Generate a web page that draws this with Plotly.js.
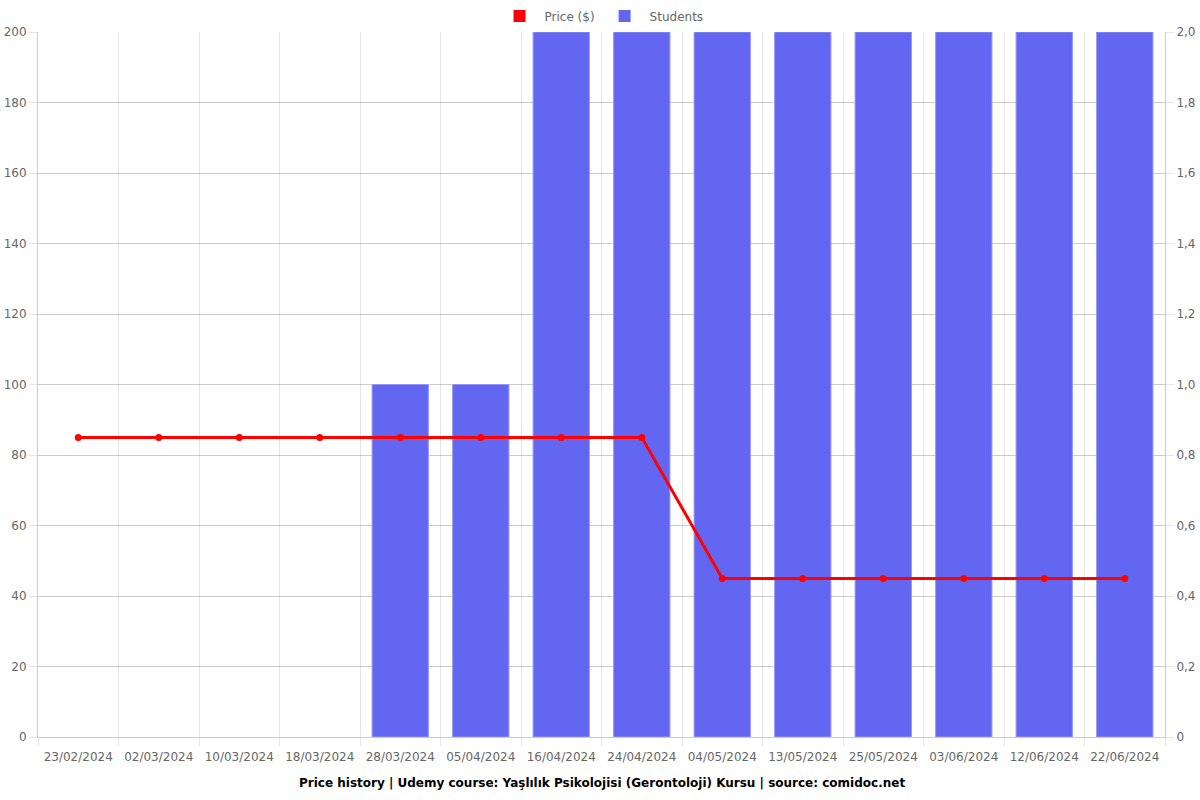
<!DOCTYPE html>
<html>
<head>
<meta charset="utf-8">
<script src="https://cdn.plot.ly/plotly-3.0.1.min.js"></script>
<style>html,body{margin:0;padding:0;background:#fff;}#chart{width:1200px;height:800px;}</style>
</head>
<body>
<div id="chart"></div>
<script>
const dates = ["23/02/2024","02/03/2024","10/03/2024","18/03/2024","28/03/2024","05/04/2024","16/04/2024","24/04/2024","04/05/2024","13/05/2024","25/05/2024","03/06/2024","12/06/2024","22/06/2024"];
const price = [85,85,85,85,85,85,85,85,45,45,45,45,45,45];
const students = [0,0,0,0,1,1,2,2,2,2,2,2,2,2];
const priceTicks = [0,20,40,60,80,100,120,140,160,180,200];
const studentTicks = [0,0.2,0.4,0.6,0.8,1.0,1.2,1.4,1.6,1.8,2.0];
const studentTickText = ["0","0,2","0,4","0,6","0,8","1,0","1,2","1,4","1,6","1,8","2,0"];
const titleText = "Price history | Udemy course: Yaşlılık Psikolojisi (Gerontoloji) Kursu | source: comidoc.net";

const idx = dates.map((d,i)=>i);
const bounds = dates.map((d,i)=>i-0.5).concat([dates.length-0.5]);
const FONT = "DejaVu Sans, sans-serif";
const VGRID = "rgba(0,0,0,0.1)";
const HGRID = "rgba(0,0,0,0.2)";
const BLUE = "rgb(99,102,241)";

const traces = [
  {type:"bar", x:[null], y:[null], xaxis:"x2", yaxis:"y", name:"Price ($)",
   marker:{color:"rgb(255,0,0)", line:{width:0}}, showlegend:true, hoverinfo:"skip"},
  {type:"bar", x:idx, y:students, xaxis:"x", yaxis:"y", name:"Students", width:0.7,
   marker:{color:BLUE, line:{color:"rgba(150,152,246,1)", width:students.map(v=>v>0?1:0)}}},
  {type:"scatter", mode:"lines+markers", x:idx, y:price, xaxis:"x", yaxis:"y2", name:"Price ($)",
   line:{color:"rgb(255,0,0)", width:3}, marker:{color:"rgb(255,0,0)", size:7}, showlegend:false}
];

const layout = {
  width:1200, height:800,
  margin:{l:38, r:35, t:32, b:63, autoexpand:false},
  paper_bgcolor:"#fff", plot_bgcolor:"#fff",
  font:{family:FONT, size:12, color:"#666"},
  barmode:"overlay",
  showlegend:true,
  legend:{orientation:"h", x:0.5, xanchor:"center", y:1.0227, yanchor:"middle",
          font:{family:FONT, size:12, color:"#666"}, traceorder:"normal", itemwidth:40},
  xaxis:{range:[-0.5, dates.length-0.5], tickmode:"array", tickvals:bounds, showticklabels:false,
         ticks:"outside", ticklen:8, tickcolor:VGRID, showgrid:true, gridcolor:VGRID,
         zeroline:false, showline:true, linecolor:HGRID, linewidth:1, fixedrange:true},
  xaxis2:{overlaying:"x", anchor:"y", side:"bottom", range:[-0.5, dates.length-0.5],
          tickmode:"array", tickvals:idx, ticktext:dates, ticks:"outside", ticklen:9,
          tickcolor:"rgba(0,0,0,0)", showgrid:false, zeroline:false, showline:false,
          tickfont:{family:FONT, size:12, color:"#666"}},
  yaxis:{side:"right", range:[0,2], tickmode:"array", tickvals:studentTicks, ticktext:studentTickText,
         ticks:"outside", ticklen:8, tickcolor:VGRID, showgrid:true, gridcolor:HGRID, zeroline:false,
         showline:true, linecolor:HGRID, linewidth:1,
         tickfont:{family:FONT, size:12, color:"#666"}},
  yaxis2:{overlaying:"y", side:"left", anchor:"x", range:[0,200], tickmode:"array", tickvals:priceTicks,
          ticks:"outside", ticklen:8, tickcolor:VGRID, showgrid:false, zeroline:false,
          showline:true, linecolor:HGRID, linewidth:1,
          tickfont:{family:FONT, size:12, color:"#666"}},
  annotations:[{text:"<b>"+titleText+"</b>", xref:"paper", yref:"paper", x:0.5, y:-0.065,
                xanchor:"center", yanchor:"middle", showarrow:false,
                font:{family:FONT, size:12, color:"#000"}}]
};

Plotly.newPlot("chart", traces, layout, {displayModeBar:false, staticPlot:true});
</script>
</body>
</html>
